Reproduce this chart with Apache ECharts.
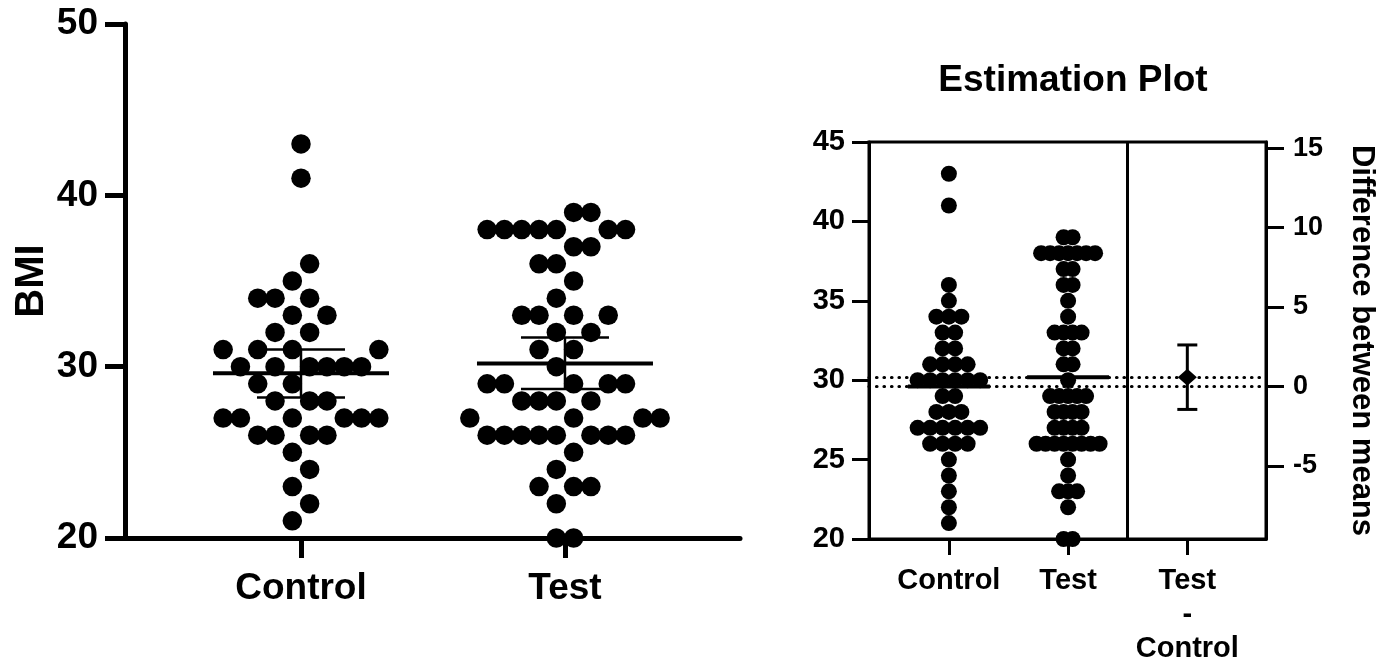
<!DOCTYPE html>
<html lang="en">
<head>
<meta charset="UTF-8">
<title>BMI - estimation plot</title>
<script src="https://cdn.jsdelivr.net/npm/echarts@6/dist/echarts.min.js"></script>
<style>
  html, body { margin: 0; padding: 0; background: #fff; }
  #main { width: 1390px; height: 661px; }
</style>
</head>
<body>
<div id="main"></div>
<script>
// BMI of every subject
var controlBMI = [43, 41, 36, 35, 34, 34, 34, 33, 33, 32, 32, 31, 31, 31, 31,
    30, 30, 30, 30, 30, 30, 29, 29, 28, 28, 28, 27, 27, 27, 27, 27, 27,
    26, 26, 26, 26, 25, 24, 23, 22, 21];
var testBMI = [39, 39, 38, 38, 38, 38, 38, 38, 38, 37, 37, 36, 36, 35, 34,
    33, 33, 33, 33, 32, 32, 31, 31, 30, 29, 29, 29, 29, 29, 28, 28, 28, 28,
    27, 27, 27, 27, 26, 26, 26, 26, 26, 26, 26, 26, 25, 24, 23, 23, 23, 22, 20, 20];
var groupNames = ['Control', 'Test'];
var diffName = 'Test\n-\nControl';
// 95% confidence intervals
var controlCI = [28.2, 31.0];
var testCI = [28.7, 31.7];
var diffCI = [-1.45, 2.61];
var diffTicks = [-5, 0, 5, 10, 15];

var FONT = 'Liberation Sans';

function mean(a) {
    return a.reduce(function (s, v) { return s + v; }, 0) / a.length;
}
function countRows(values) {
    var rows = {};
    values.forEach(function (v) { rows[v] = (rows[v] || 0) + 1; });
    return rows;
}

var cMean = mean(controlBMI);
var tMean = mean(testBMI);
var dMean = tMean - cMean;

var leftGrid = { left: 125, top: 24, width: 615, height: 514 };
var leftX = [1 / 3, 2.663];
var rightGrid = { left: 869, top: 142, width: 397, height: 397 };
var rightX = [0.33, 3.66];

// left plot: dots sit in columns half a step off the centre,
// a dot never shares a column with a dot one unit below
function swarmColumns(values) {
    var rows = countRows(values);
    var keys = Object.keys(rows).map(Number).sort(function (a, b) { return a - b; });
    var used = {}, out = [];
    keys.forEach(function (v) {
        var n = rows[v];
        used[v] = [];
        if (!rows[v - 1] && !rows[v + 1]) {
            for (var i = 0; i < n; i++) used[v].push(i - (n - 1) / 2);
        } else {
            var near = (used[v - 1] || []).concat(used[v + 1] || []);
            for (var k = 0; used[v].length < n; k++) {
                var c = (k % 2 === 0 ? -1 : 1) * (Math.floor(k / 2) + 0.5);
                if (near.indexOf(c) < 0) used[v].push(c);
            }
        }
        used[v].forEach(function (c) { out.push([c, v]); });
    });
    return out;
}
function swarmLeft(values, gx) {
    var pxPerUnit = leftGrid.width / (leftX[1] - leftX[0]);
    var colPx = 17.3;
    return swarmColumns(values).map(function (d) {
        return [gx + d[0] * colPx / pxPerUnit, d[1]];
    });
}
// right plot: each row of equal values is centred
function rowsCentered(values, gx) {
    var rows = countRows(values);
    var widest = Math.max.apply(null, Object.keys(rows).map(function (k) { return rows[k]; }));
    var stepPx = Math.min(12.5, 63 / (widest - 1));
    var pxPerUnit = rightGrid.width / (rightX[1] - rightX[0]);
    var out = [];
    Object.keys(rows).forEach(function (k) {
        var n = rows[k];
        for (var i = 0; i < n; i++) out.push([gx + (i - (n - 1) / 2) * stepPx / pxPerUnit, +k]);
    });
    return out;
}

function seg(x1, y1, x2, y2, w) {
    return { type: 'line', shape: { x1: x1, y1: y1, x2: x2, y2: y2 },
        style: { stroke: '#000', lineWidth: w } };
}
function meanCiItem(params, api) {
    var x = api.value(0);
    var m = api.coord([x, api.value(1)]);
    var lo = api.coord([x, api.value(2)]);
    var hi = api.coord([x, api.value(3)]);
    return { type: 'group', children: [
        seg(m[0] - 88, m[1], m[0] + 88, m[1], 4),
        seg(lo[0], lo[1], hi[0], hi[1], 2.5),
        seg(lo[0] - 44, lo[1], lo[0] + 44, lo[1], 2.5),
        seg(hi[0] - 44, hi[1], hi[0] + 44, hi[1], 2.5)
    ] };
}
function meanItem(params, api) {
    var m = api.coord([api.value(0), api.value(1)]);
    return seg(m[0] - 41, m[1], m[0] + 41, m[1], 4);
}
function diffBarItem(params, api) {
    var x = api.value(0);
    var lo = api.coord([x, api.value(2)]);
    var hi = api.coord([x, api.value(3)]);
    return { type: 'group', children: [
        seg(lo[0], lo[1], hi[0], hi[1], 3),
        seg(lo[0] - 10, lo[1], lo[0] + 10, lo[1], 3),
        seg(hi[0] - 10, hi[1], hi[0] + 10, hi[1], 3)
    ] };
}

var boldText = function (size) {
    return { fontFamily: FONT, fontWeight: 'bold', fontSize: size, color: '#000' };
};
var dotStyle = { color: '#000', opacity: 1 };

var chart = echarts.init(document.getElementById('main'));

var option = {
    animation: false,
    backgroundColor: '#fff',
    title: {
        text: 'Estimation Plot',
        left: 1068, top: 57, textAlign: 'center',
        textStyle: boldText(37)
    },
    grid: [
        Object.assign({ outerBoundsMode: 'none', containLabel: false }, leftGrid),
        Object.assign({ outerBoundsMode: 'none', containLabel: false,
            show: true, borderColor: '#000', borderWidth: 3 }, rightGrid)
    ],
    xAxis: [{
        gridIndex: 0, type: 'value', min: leftX[0], max: leftX[1],
        splitLine: { show: false },
        axisLine: { onZero: false, lineStyle: { color: '#000', width: 5 } },
        axisTick: { customValues: [1, 2], length: 20, lineStyle: { color: '#000', width: 5 } },
        axisLabel: Object.assign({ customValues: [1, 2], margin: 32,
            formatter: function (v) { return groupNames[Math.round(v) - 1]; } }, boldText(37))
    }, {
        gridIndex: 1, type: 'value', min: rightX[0], max: rightX[1],
        splitLine: { show: false },
        axisLine: { onZero: false, lineStyle: { color: '#000', width: 3 } },
        axisTick: { customValues: [1, 2, 3], length: 16, lineStyle: { color: '#000', width: 3 } },
        axisLabel: Object.assign({ customValues: [1, 2, 3], margin: 25, lineHeight: 34,
            formatter: function (v) { return groupNames.concat([diffName])[Math.round(v) - 1]; } }, boldText(29))
    }],
    yAxis: [{
        gridIndex: 0, type: 'value', min: 20, max: 50, interval: 10,
        name: 'BMI', nameLocation: 'middle', nameGap: 73, nameRotate: 90,
        nameTextStyle: boldText(40),
        splitLine: { show: false },
        axisLine: { show: true, onZero: false, lineStyle: { color: '#000', width: 5 } },
        axisTick: { length: 20, lineStyle: { color: '#000', width: 5 } },
        axisLabel: Object.assign({ margin: 27 }, boldText(37))
    }, {
        gridIndex: 1, type: 'value', min: 20, max: 45, interval: 5,
        splitLine: { show: false },
        axisLine: { show: true, onZero: false, lineStyle: { color: '#000', width: 3 } },
        axisTick: { length: 17, lineStyle: { color: '#000', width: 3 } },
        axisLabel: Object.assign({ margin: 24 }, boldText(29))
    }, {
        gridIndex: 1, type: 'value', position: 'right',
        min: 20 - cMean, max: 45 - cMean,
        name: 'Difference between means', nameLocation: 'middle', nameGap: 80, nameRotate: -90,
        nameTextStyle: boldText(31),
        splitLine: { show: false },
        axisLine: { show: true, onZero: false, lineStyle: { color: '#000', width: 3 } },
        axisTick: { customValues: diffTicks, length: 18, lineStyle: { color: '#000', width: 3 } },
        axisLabel: Object.assign({ customValues: diffTicks, margin: 27 }, boldText(27))
    }],
    series: [{
        type: 'scatter', xAxisIndex: 0, yAxisIndex: 0, clip: false,
        symbolSize: 19.5, itemStyle: dotStyle,
        data: swarmLeft(controlBMI, 1)
    }, {
        type: 'scatter', xAxisIndex: 0, yAxisIndex: 0, clip: false,
        symbolSize: 19.5, itemStyle: dotStyle,
        data: swarmLeft(testBMI, 2)
    }, {
        type: 'custom', xAxisIndex: 0, yAxisIndex: 0, clip: false,
        renderItem: meanCiItem,
        data: [[1, cMean, controlCI[0], controlCI[1]], [2, tMean, testCI[0], testCI[1]]]
    }, {
        type: 'scatter', xAxisIndex: 1, yAxisIndex: 1, clip: false,
        symbolSize: 16, itemStyle: dotStyle,
        data: rowsCentered(controlBMI, 1)
    }, {
        type: 'scatter', xAxisIndex: 1, yAxisIndex: 1, clip: false,
        symbolSize: 16, itemStyle: dotStyle,
        data: rowsCentered(testBMI, 2),
        markLine: {
            silent: true, symbol: ['none', 'none'], label: { show: false },
            lineStyle: { color: '#000', width: 3.2, type: [0.5, 7], cap: 'round', opacity: 1 },
            data: [{ yAxis: cMean }, { yAxis: tMean }]
        }
    }, {
        type: 'custom', xAxisIndex: 1, yAxisIndex: 1, clip: false,
        renderItem: meanItem,
        data: [[1, cMean], [2, tMean]],
        markLine: {
            silent: true, symbol: ['none', 'none'], label: { show: false },
            lineStyle: { color: '#000', width: 3, type: 'solid', opacity: 1 },
            data: [{ xAxis: 2.5 }]
        }
    }, {
        type: 'custom', xAxisIndex: 1, yAxisIndex: 2, clip: false,
        renderItem: diffBarItem,
        data: [[3, dMean, diffCI[0], diffCI[1]]]
    }, {
        type: 'scatter', xAxisIndex: 1, yAxisIndex: 2, clip: false,
        symbol: 'diamond', symbolSize: [19, 17], itemStyle: dotStyle,
        data: [[3, dMean]]
    }]
};

chart.setOption(option);
</script>
</body>
</html>
